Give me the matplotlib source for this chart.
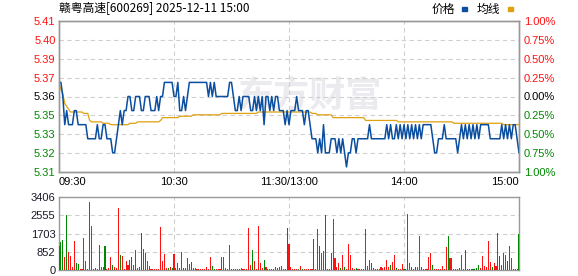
import numpy as np
import matplotlib
matplotlib.use("Agg")
import matplotlib.pyplot as plt
from matplotlib.patches import Rectangle

plt.rcParams['font.family'] = ['Liberation Sans', 'Noto Sans CJK SC', 'DejaVu Sans']

# --- data (one value per minute, 09:30-11:30 + 13:00-15:00) ---
title = "赣粤高速[600269] 2025-12-11 15:00"
prev_close = 5.36
pct_ticks = [1.00, 0.75, 0.50, 0.25, 0.00, -0.25, -0.50, -0.75, -1.00]
vol_ticks = [0, 852, 1703, 2555, 3406]
time_labels = ["09:30", "10:30", "11:30/13:00", "14:00", "15:00"]
time_pos = [0, 60, 120, 180, 240]

price = [
    5.37, 5.37, 5.36, 5.34, 5.35, 5.34, 5.34, 5.34, 5.35, 5.35,
    5.34, 5.34, 5.34, 5.34, 5.34, 5.33, 5.33, 5.33, 5.33, 5.33,
    5.34, 5.33, 5.33, 5.34, 5.34, 5.33, 5.33, 5.33, 5.32, 5.32,
    5.33, 5.34, 5.35, 5.34, 5.35, 5.35, 5.36, 5.36, 5.35, 5.35,
    5.36, 5.36, 5.36, 5.35, 5.35, 5.36, 5.36, 5.36, 5.35, 5.35,
    5.35, 5.36, 5.35, 5.36, 5.36, 5.37, 5.37, 5.37, 5.37, 5.37,
    5.36, 5.36, 5.37, 5.35, 5.35, 5.36, 5.35, 5.36, 5.37, 5.37,
    5.37, 5.37, 5.37, 5.37, 5.37, 5.37, 5.37, 5.37, 5.36, 5.37,
    5.36, 5.37, 5.36, 5.36, 5.36, 5.36, 5.36, 5.36, 5.36, 5.37,
    5.37, 5.36, 5.35, 5.35, 5.36, 5.35, 5.36, 5.36, 5.36, 5.36,
    5.35, 5.35, 5.36, 5.35, 5.36, 5.35, 5.36, 5.34, 5.36, 5.36,
    5.35, 5.36, 5.35, 5.36, 5.36, 5.35, 5.35, 5.35, 5.34, 5.35,
    5.34, 5.35, 5.35, 5.35, 5.36, 5.35, 5.35, 5.35, 5.34, 5.35,
    5.35, 5.34, 5.33, 5.33, 5.33, 5.32, 5.33, 5.32, 5.34, 5.32,
    5.32, 5.32, 5.33, 5.33, 5.33, 5.32, 5.33, 5.32, 5.33, 5.32,
    5.31, 5.32, 5.32, 5.33, 5.33, 5.32, 5.33, 5.33, 5.33, 5.33,
    5.33, 5.33, 5.34, 5.33, 5.33, 5.33, 5.33, 5.33, 5.33, 5.33,
    5.33, 5.34, 5.33, 5.34, 5.33, 5.33, 5.34, 5.33, 5.34, 5.33,
    5.34, 5.33, 5.34, 5.33, 5.34, 5.33, 5.34, 5.33, 5.34, 5.33,
    5.34, 5.34, 5.34, 5.34, 5.34, 5.33, 5.32, 5.32, 5.33, 5.33,
    5.33, 5.34, 5.33, 5.33, 5.33, 5.33, 5.33, 5.33, 5.32, 5.33,
    5.34, 5.33, 5.34, 5.33, 5.34, 5.33, 5.34, 5.33, 5.34, 5.33,
    5.34, 5.34, 5.34, 5.34, 5.34, 5.33, 5.33, 5.33, 5.33, 5.33,
    5.33, 5.34, 5.33, 5.34, 5.33, 5.34, 5.33, 5.34, 5.34, 5.33,
    5.32,
]

avg_price = [
    5.369, 5.365, 5.362, 5.355, 5.353, 5.351, 5.349, 5.349, 5.349, 5.349,
    5.349, 5.349, 5.349, 5.348, 5.348, 5.348, 5.343, 5.342, 5.342, 5.342,
    5.342, 5.342, 5.342, 5.341, 5.341, 5.341, 5.341, 5.340, 5.340, 5.340,
    5.340, 5.340, 5.340, 5.340, 5.340, 5.340, 5.340, 5.341, 5.341, 5.341,
    5.341, 5.342, 5.342, 5.342, 5.342, 5.342, 5.342, 5.342, 5.342, 5.342,
    5.342, 5.342, 5.342, 5.343, 5.345, 5.345, 5.345, 5.345, 5.345, 5.345,
    5.345, 5.345, 5.345, 5.346, 5.346, 5.346, 5.346, 5.346, 5.346, 5.346,
    5.347, 5.347, 5.347, 5.347, 5.347, 5.347, 5.347, 5.347, 5.347, 5.347,
    5.347, 5.347, 5.347, 5.347, 5.347, 5.348, 5.348, 5.348, 5.348, 5.348,
    5.348, 5.348, 5.348, 5.348, 5.348, 5.348, 5.348, 5.348, 5.348, 5.348,
    5.348, 5.348, 5.348, 5.348, 5.349, 5.349, 5.349, 5.349, 5.349, 5.349,
    5.349, 5.349, 5.349, 5.349, 5.349, 5.349, 5.349, 5.349, 5.349, 5.349,
    5.349, 5.349, 5.349, 5.349, 5.349, 5.349, 5.349, 5.349, 5.349, 5.349,
    5.349, 5.349, 5.348, 5.348, 5.348, 5.347, 5.347, 5.347, 5.347, 5.347,
    5.347, 5.347, 5.347, 5.345, 5.345, 5.345, 5.345, 5.345, 5.345, 5.345,
    5.345, 5.345, 5.345, 5.345, 5.345, 5.345, 5.345, 5.345, 5.345, 5.345,
    5.343, 5.343, 5.343, 5.343, 5.343, 5.343, 5.343, 5.343, 5.343, 5.343,
    5.343, 5.343, 5.343, 5.343, 5.343, 5.343, 5.343, 5.342, 5.342, 5.342,
    5.342, 5.342, 5.342, 5.342, 5.342, 5.342, 5.342, 5.342, 5.342, 5.342,
    5.342, 5.342, 5.342, 5.342, 5.342, 5.342, 5.342, 5.342, 5.342, 5.342,
    5.342, 5.342, 5.342, 5.342, 5.342, 5.342, 5.341, 5.341, 5.341, 5.341,
    5.341, 5.341, 5.341, 5.341, 5.341, 5.341, 5.341, 5.341, 5.341, 5.341,
    5.341, 5.341, 5.341, 5.341, 5.341, 5.341, 5.341, 5.341, 5.341, 5.341,
    5.341, 5.341, 5.340, 5.340, 5.340, 5.340, 5.340, 5.340, 5.340, 5.340,
    5.340,
]

volume = [
    1115, 1300, 1393, 604, 2554, 820, 650, 155, 1347, 340,
    280, 50, 50, 1500, 418, 50, 3173, 2043, 50, 93,
    50, 1160, 140, 140, 1115, 60, 93, 604, 232, 140,
    93, 2895, 697, 650, 50, 418, 232, 464, 604, 232,
    929, 70, 155, 1718, 975, 790, 418, 186, 50, 50,
    50, 50, 50, 1997, 418, 743, 70, 70, 140, 93,
    743, 70, 325, 110, 836, 70, 70, 557, 279, 372,
    70, 70, 50, 50, 50, 50, 50, 140, 50, 604,
    186, 50, 50, 50, 50, 604, 604, 93, 50, 1160,
    50, 50, 50, 50, 50, 93, 50, 50, 50, 1950,
    232, 929, 418, 50, 2043, 325, 93, 464, 140, 50,
    50, 50, 50, 140, 93, 155, 186, 50, 50, 1950,
    1207, 140, 50, 50, 50, 50, 186, 50, 50, 50,
    50, 50, 50, 1440, 50, 1904, 1115, 790, 882, 2554,
    50, 50, 790, 2368, 557, 140, 325, 93, 697, 140,
    50, 1207, 697, 93, 50, 93, 50, 50, 50, 50,
    1904, 186, 464, 325, 93, 50, 50, 50, 140, 93,
    140, 464, 140, 232, 372, 697, 93, 50, 50, 279,
    50, 50, 2600, 325, 140, 50, 140, 140, 1579, 140,
    50, 50, 50, 604, 790, 232, 50, 50, 50, 50,
    186, 50, 1068, 1579, 557, 557, 50, 50, 50, 93,
    697, 50, 929, 50, 50, 50, 50, 50, 93, 232,
    93, 650, 186, 140, 1347, 372, 140, 325, 186, 1718,
    650, 232, 790, 697, 418, 1115, 557, 50, 50, 50,
    1672,
]

# r = up minute (red), g = down minute (green)
vol_dir = "".join([
    "rggrgrrrrg", "grrrrgrrrr", "rrrrgrrrgr", "rrgrrrrrgr", "rrggrrrrrr",
    "rrrrrrrgrg", "rrrrrgrrrg", "rrrrrrrrrr", "ggrrrrrrrr", "ggrrrrrrrr",
    "rgrrrrrgrr", "rrrrrrrrrg", "rrrrrgrgrr", "rrrgrrgrrg", "rrgrrrrgrg",
    "rrrrrgrrrr", "rrrggrrrrr", "rrrgrrgrrr", "grrrgrgrrg", "rrrrrgrrrr",
    "rrrgrrrrrg", "rrgggggggg", "rrrrrrgrrr", "grrrgrrrrr", "g",
])

# --- style ---
RED = "#ff1010"
GREEN = "#008800"
PRICE_C = "#0a4ea0"
AVG_C = "#e0a010"
GRID_C = "#cfcfcf"
SPINE_C = "#999999"
GRID_LS = (0, (4, 3))

W, H = 578, 276
fig = plt.figure(figsize=(W / 100, H / 100), dpi=100)
fig.patch.set_facecolor("white")

ax = fig.add_axes([59 / W, 104 / H, 460 / W, 151 / H])
axv = fig.add_axes([59 / W, 6 / H, 460 / W, 73 / H])

x = np.arange(len(price))

# price panel
ax.text(0.545, 0.50, "东方财富", transform=ax.transAxes, fontsize=26,
        color="#ebebef", weight="bold", ha="center", va="center",
        family=["Noto Sans CJK SC"], zorder=0)
ax.plot(x, avg_price, color=AVG_C, lw=0.9, zorder=3)
ax.plot(x, price, color=PRICE_C, lw=1.1, zorder=4)

price_ticks = [prev_close * (1 + p / 100) for p in pct_ticks]
ax.set_xlim(0, 240)
ax.set_ylim(min(price_ticks), max(price_ticks))
ax.set_yticks(price_ticks)
ax.set_yticklabels([f"{t:.2f}" for t in price_ticks], fontsize=8)
ax.set_xticks(time_pos[1:-1])
ax.set_xticklabels([])
ax.tick_params(length=0, pad=2.5)
ax.grid(True, color=GRID_C, ls=GRID_LS, lw=0.8)


def tick_color(p):
    if p > 0:
        return RED
    if p < 0:
        return GREEN
    return "black"


for lbl, p in zip(ax.get_yticklabels(), pct_ticks):
    lbl.set_color(tick_color(p))

ax2 = ax.twinx()
ax2.set_ylim(min(pct_ticks), max(pct_ticks))
ax2.set_yticks(pct_ticks)
ax2.set_yticklabels([f"{abs(p):.2f}%" for p in pct_ticks], fontsize=8)
ax2.tick_params(length=0, pad=3.5)
for lbl, p in zip(ax2.get_yticklabels(), pct_ticks):
    lbl.set_color(tick_color(p))

for a in (ax, ax2, axv):
    for s in a.spines.values():
        s.set_color(SPINE_C)
        s.set_linewidth(1.0)

for t, pos in zip(time_labels, time_pos):
    ha = "left" if pos == 0 else ("right" if pos == 240 else "center")
    ax.text(pos, -0.068, t, transform=ax.get_xaxis_transform(), ha=ha,
            va="center", fontsize=8, color="black")

# volume panel
bar_colors = [RED if d == "r" else GREEN for d in vol_dir]
axv.bar(x, volume, width=0.6, color=bar_colors, antialiased=False, zorder=3)
axv.set_xlim(0, 240)
axv.set_ylim(0, vol_ticks[-1])
axv.set_yticks(vol_ticks)
axv.set_yticklabels([str(v) for v in vol_ticks], fontsize=8, color="#1a1a2a")
axv.set_xticks(time_pos[1:-1])
axv.set_xticklabels([])
axv.tick_params(length=0, pad=2.5)
axv.grid(True, color=GRID_C, ls=GRID_LS, lw=0.8)

# title and legend
fig.text(59 / W, 1 - 9 / H, title, fontsize=8.5, ha="left", va="center",
         family=["Noto Sans CJK SC", "DejaVu Sans"])
fig.text(432 / W, 1 - 9 / H, "价格", fontsize=8.5, ha="left", va="center",
         family=["Noto Sans CJK SC"])
fig.add_artist(Rectangle((462 / W, 1 - 10.5 / H), 5 / W, 3 / H,
                         transform=fig.transFigure, color=PRICE_C))
fig.text(477 / W, 1 - 9 / H, "均线", fontsize=8.5, ha="left", va="center",
         family=["Noto Sans CJK SC"])
fig.add_artist(Rectangle((508 / W, 1 - 10.5 / H), 5 / W, 3 / H,
                         transform=fig.transFigure, color=AVG_C))

fig.savefig("out.png", dpi=100, facecolor="white")
